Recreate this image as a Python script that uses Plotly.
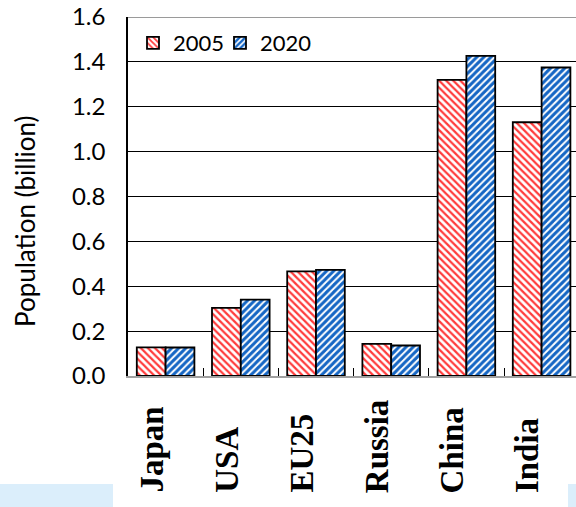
import plotly.graph_objects as go

# Population by region, in billions
regions = ["Japan", "USA", "EU25", "Russia", "China", "India"]
pop_2005 = [0.128, 0.304, 0.466, 0.143, 1.320, 1.131]
pop_2020 = [0.127, 0.340, 0.473, 0.136, 1.427, 1.375]
y_ticks = [0.0, 0.2, 0.4, 0.6, 0.8, 1.0, 1.2, 1.4, 1.6]

W, H = 576, 507
L, R, T, B = 128, 0, 17, 131
plot_w = W - L - R
plot_h = H - T - B
cat_px = 75.2  # width of one category band


def px_x(px):
    return (px - L) / plot_w


def px_y(py):
    return (H - B - py) / plot_h


fig = go.Figure()
fig.add_bar(
    name="2005", x=regions, y=pop_2005, legend="legend",
    marker=dict(
        color="white",
        line=dict(color="black", width=1.8),
        pattern=dict(shape="\\", fgcolor="#ff3b3b", bgcolor="white",
                     size=5, solidity=0.45, fillmode="replace"),
    ),
)
fig.add_bar(
    name="2020", x=regions, y=pop_2020, legend="legend2",
    marker=dict(
        color="white",
        line=dict(color="black", width=1.8),
        pattern=dict(shape="/", fgcolor="#1566c4", bgcolor="white",
                     size=5, solidity=0.6, fillmode="replace"),
    ),
)

# rotated category labels, bottom-aligned
annotations = []
for i, name in enumerate(regions):
    annotations.append(dict(
        x=i, xref="x", y=px_y(495), yref="paper", xshift=-14,
        text=f"<b>{name}</b>", textangle=-90, showarrow=False,
        xanchor="center", yanchor="bottom",
        font=dict(family="Liberation Serif", size=33, color="black"),
    ))
annotations.append(dict(
    x=px_x(25), xref="paper", y=px_y(221), yref="paper",
    text="Population (billion)", textangle=-90, showarrow=False,
    xanchor="center", yanchor="middle",
    font=dict(family="Lato", size=26, color="black"),
))

shapes = [
    # plot-area top edge
    dict(type="line", xref="paper", yref="y", x0=0, x1=1, y0=1.6, y1=1.6,
         line=dict(color="#9a9a9a", width=2)),
    # light blue bands along the bottom edge
    dict(type="rect", xref="paper", yref="paper",
         x0=px_x(0), x1=px_x(113), y0=px_y(507), y1=px_y(484),
         fillcolor="#dbeefb", line=dict(width=0), layer="below"),
    dict(type="rect", xref="paper", yref="paper",
         x0=px_x(568), x1=px_x(576), y0=px_y(507), y1=px_y(484),
         fillcolor="#dbeefb", line=dict(width=0), layer="below"),
]

legend_style = dict(
    orientation="h", xanchor="left", yanchor="top",
    font=dict(family="Lato", size=22, color="black"),
    bgcolor="rgba(0,0,0,0)",
)

fig.update_layout(
    width=W, height=H,
    margin=dict(l=L, r=R, t=T, b=B, pad=0),
    paper_bgcolor="white", plot_bgcolor="white",
    barmode="group", bargap=0.234, bargroupgap=0,
    font=dict(family="Lato", color="black"),
    showlegend=True,
    legend=dict(x=px_x(133), y=px_y(22), **legend_style),
    legend2=dict(x=px_x(220), y=px_y(22), **legend_style),
    annotations=annotations,
    shapes=shapes,
)

fig.update_xaxes(
    range=[-0.5, -0.5 + plot_w / cat_px],
    showticklabels=False,
    ticks="inside", ticklen=8, tickcolor="black", tickwidth=1,
    tickson="boundaries",
    showline=True, linecolor="#a0a0a0", linewidth=2,
    showgrid=False, zeroline=False,
)
fig.update_yaxes(
    range=[0, 1.6], tickvals=y_ticks, tickformat=".1f",
    ticks="", ticklabelstandoff=16,
    tickfont=dict(family="Lato", size=24, color="black"),
    showline=True, linecolor="black", linewidth=1.5,
    showgrid=True, gridcolor="black", gridwidth=1,
    zeroline=False,
)

fig.write_html("out.html")
